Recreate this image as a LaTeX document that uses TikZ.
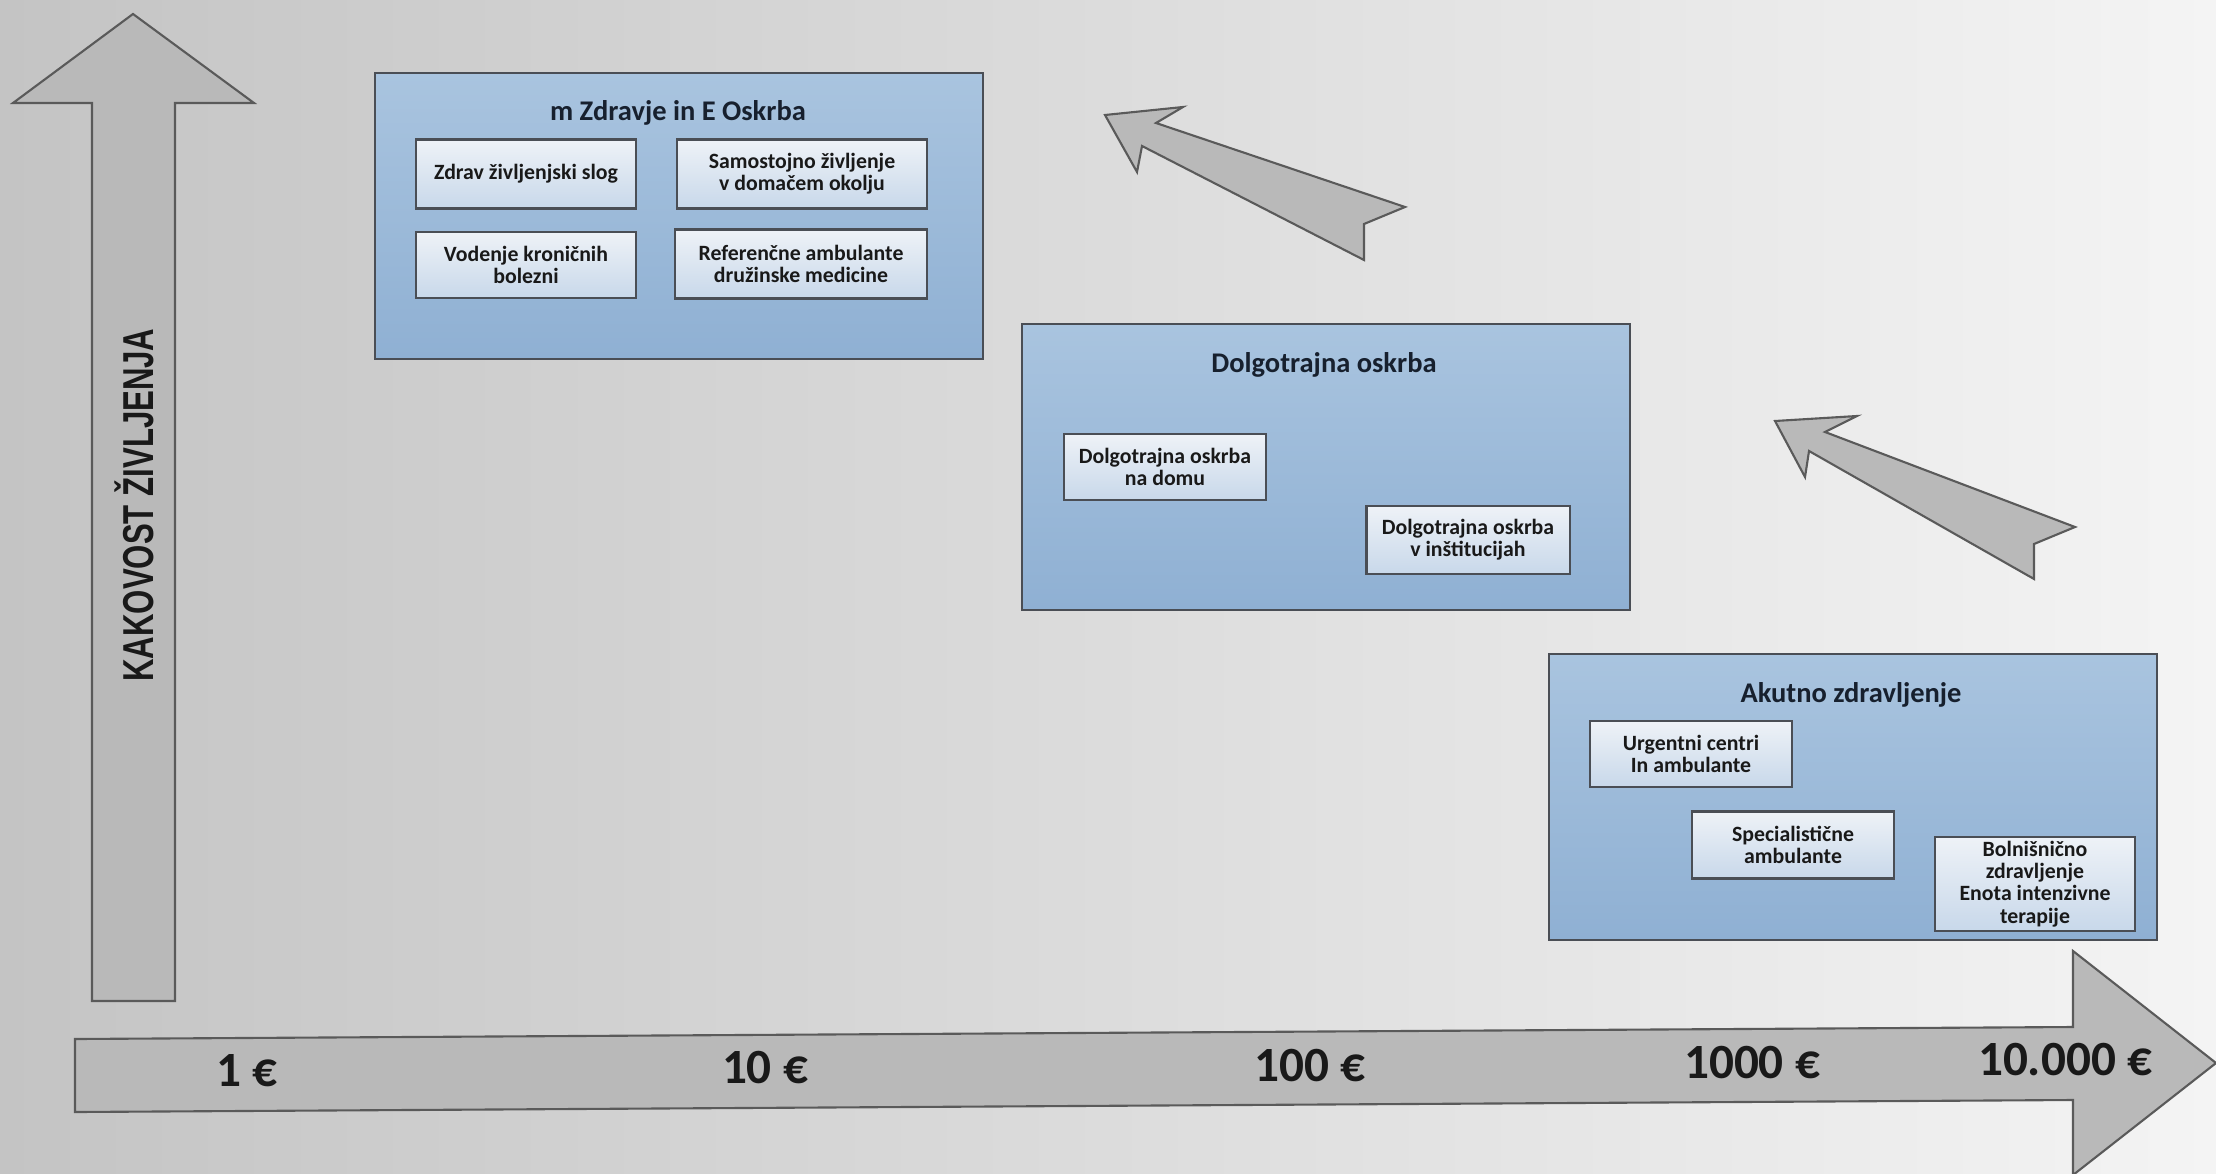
\documentclass[tikz,border=0pt]{standalone}
\usepackage{fontspec}
\setmainfont{Carlito}
\newfontfamily\axisfont{Liberation Sans}

\definecolor{bgleft}{HTML}{C4C4C4}
\definecolor{bgright}{HTML}{F4F4F4}
\definecolor{arrowfill}{HTML}{B9B9B9}
\definecolor{arrowline}{HTML}{5A5A5A}
\definecolor{boxline}{HTML}{4A4E55}
\definecolor{grptop}{HTML}{A9C4DF}
\definecolor{grpbot}{HTML}{8FB0D3}
\definecolor{itmtop}{HTML}{EEF2F7}
\definecolor{itmbot}{HTML}{C8D8EA}
\definecolor{titletext}{HTML}{17202E}

\tikzset{
  grp/.style={draw=boxline, line width=0.6pt, top color=grptop, bottom color=grpbot,
    minimum width=6.07cm, minimum height=2.86cm, inner sep=0pt},
  itm/.style={draw=boxline, line width=0.6pt, top color=itmtop, bottom color=itmbot,
    align=center, inner sep=0pt, text=black!90,
    font=\fontsize{6.2}{6.3}\selectfont\bfseries},
  ttl/.style={text=titletext, font=\fontsize{8.1}{9}\selectfont\bfseries},
  cost/.style={text=black!90, font=\fontsize{14}{16}\selectfont\bfseries},
  blockarrow/.style={draw=arrowline, fill=arrowfill, line width=0.6pt, line join=miter}
}

\begin{document}
\begin{tikzpicture}[x=0.01cm, y=-0.01cm]
        \path[use as bounding box, clip] (0,0) rectangle (2216,1173);
        \shade[left color=bgleft, right color=bgright] (0,0) rectangle (2216,1173);

        % block arrows
        \path[blockarrow] (92,1001) -- (92,103) -- (13,103) -- (133,14) -- (254,103)
                -- (175,103) -- (175,1001) -- cycle;
        \path[blockarrow] (75,1039) -- (2073,1027) -- (2073,951) -- (2216,1063)
                -- (2073,1175) -- (2073,1100) -- (75,1112) -- cycle;
        \path[blockarrow] (1105,115) -- (1183,107) -- (1156,123) -- (1405,207) -- (1364,224)
                -- (1364,260) -- (1142,146) -- (1137,172) -- cycle;
        \path[blockarrow] (1775,421) -- (1857,416) -- (1825,432) -- (2075,527) -- (2034,544)
                -- (2034,579) -- (1809,451) -- (1805,477) -- cycle;

        \node[rotate=90, text=black!90, font=\axisfont\bfseries\fontsize{12.3}{14}\selectfont] (KZ) at (134,505)
                {\scalebox{0.72}[1]{KAKOVOST ŽIVLJENJA}};

        \begin{scope}[every node/.style={cost}]
                \node (E1) at (247,1071) {1 €};
                \node (E10) at (765,1068) {10 €};
                \node (E100) at (1310,1066) {100 €};
                \node (E1000) at (1752,1063) {1000 €};
                \node (E10000) at (2065,1060) {10.000 €};
        \end{scope}

        % groups
        \node[grp] (MZ) at (679,216) {};
        \node[grp] (DO) at (1326,467) {};
        \node[grp] (AZ) at (1853,797) {};
        \node[ttl] (MZt) at (678,113) {m Zdravje in E Oskrba};
        \node[ttl] (DOt) at (1324,365) {Dolgotrajna oskrba};
        \node[ttl] (AZt) at (1851,695) {Akutno zdravljenje};

        \node[itm, minimum width=2.19cm, minimum height=0.69cm] (Zs) at (526,174) {Zdrav življenjski slog};
        \node[itm, minimum width=2.49cm, minimum height=0.69cm] (Sz) at (802,174) {Samostojno življenje\\v domačem okolju};
        \node[itm, minimum width=2.19cm, minimum height=0.66cm] (Vk) at (526,265) {Vodenje kroničnih\\bolezni};
        \node[itm, minimum width=2.51cm, minimum height=0.69cm] (Ra) at (801,264) {Referenčne ambulante\\družinske medicine};

        \node[itm, minimum width=2.02cm, minimum height=0.66cm] (Dd) at (1165,467) {Dolgotrajna oskrba\\na domu};
        \node[itm, minimum width=2.03cm, minimum height=0.68cm] (Di) at (1468,540) {Dolgotrajna oskrba\\v inštitucijah};

        \node[itm, minimum width=2.02cm, minimum height=0.66cm] (Uc) at (1691,754) {Urgentni centri\\In ambulante};
        \node[itm, minimum width=2.02cm, minimum height=0.67cm] (Sa) at (1793,845) {Specialistične\\ambulante};
        \node[itm, minimum width=2.00cm, minimum height=0.94cm] (Bz) at (2035,884) {Bolnišnično\\zdravljenje\\Enota intenzivne\\terapije};
\end{tikzpicture}
\end{document}
